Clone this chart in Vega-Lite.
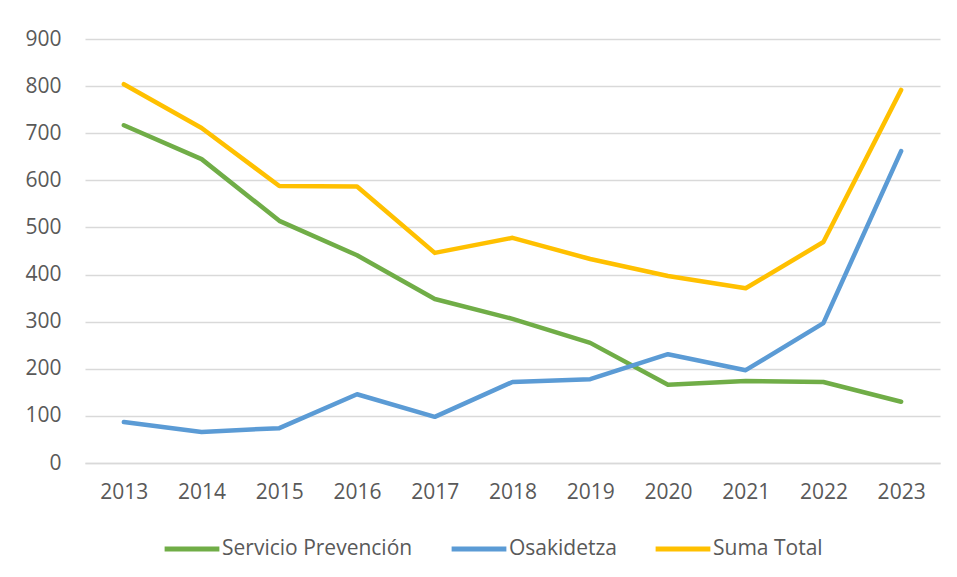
{
  "$schema": "https://vega.github.io/schema/vega-lite/v6.json",
  "width": 855,
  "height": 424,
  "autosize": {"type": "none"},
  "padding": {"left": 85, "top": 39, "right": 17, "bottom": 114},
  "background": "white",
  "config": {
    "view": {"stroke": null},
    "font": "Open Sans"
  },
  "data": {
    "values": [
      {"year": "2013", "serie": "Servicio Prevención", "value": 717},
      {"year": "2014", "serie": "Servicio Prevención", "value": 645},
      {"year": "2015", "serie": "Servicio Prevención", "value": 514},
      {"year": "2016", "serie": "Servicio Prevención", "value": 441},
      {"year": "2017", "serie": "Servicio Prevención", "value": 348},
      {"year": "2018", "serie": "Servicio Prevención", "value": 306},
      {"year": "2019", "serie": "Servicio Prevención", "value": 255},
      {"year": "2020", "serie": "Servicio Prevención", "value": 166},
      {"year": "2021", "serie": "Servicio Prevención", "value": 174},
      {"year": "2022", "serie": "Servicio Prevención", "value": 172},
      {"year": "2023", "serie": "Servicio Prevención", "value": 130},
      {"year": "2013", "serie": "Osakidetza", "value": 87},
      {"year": "2014", "serie": "Osakidetza", "value": 66},
      {"year": "2015", "serie": "Osakidetza", "value": 74},
      {"year": "2016", "serie": "Osakidetza", "value": 146},
      {"year": "2017", "serie": "Osakidetza", "value": 98},
      {"year": "2018", "serie": "Osakidetza", "value": 172},
      {"year": "2019", "serie": "Osakidetza", "value": 178},
      {"year": "2020", "serie": "Osakidetza", "value": 231},
      {"year": "2021", "serie": "Osakidetza", "value": 197},
      {"year": "2022", "serie": "Osakidetza", "value": 297},
      {"year": "2023", "serie": "Osakidetza", "value": 662},
      {"year": "2013", "serie": "Suma Total", "value": 804},
      {"year": "2014", "serie": "Suma Total", "value": 711},
      {"year": "2015", "serie": "Suma Total", "value": 588},
      {"year": "2016", "serie": "Suma Total", "value": 587},
      {"year": "2017", "serie": "Suma Total", "value": 446},
      {"year": "2018", "serie": "Suma Total", "value": 478},
      {"year": "2019", "serie": "Suma Total", "value": 433},
      {"year": "2020", "serie": "Suma Total", "value": 397},
      {"year": "2021", "serie": "Suma Total", "value": 371},
      {"year": "2022", "serie": "Suma Total", "value": 469},
      {"year": "2023", "serie": "Suma Total", "value": 792}
    ]
  },
  "mark": {"type": "line", "strokeWidth": 4.5, "strokeCap": "round", "strokeJoin": "round"},
  "encoding": {
    "x": {
      "field": "year", "type": "ordinal",
      "scale": {"type": "point", "padding": 0.5},
      "axis": {
        "title": null, "labelAngle": 0, "labelFontSize": 21, "labelColor": "#595959",
        "domainColor": "#D9D9D9", "domainWidth": 1.3, "ticks": false, "labelPadding": 18, "grid": false
      }
    },
    "y": {
      "field": "value", "type": "quantitative",
      "scale": {"domain": [0, 900]},
      "axis": {
        "title": null, "values": [0,100,200,300,400,500,600,700,800,900],
        "labelFontSize": 21, "labelColor": "#595959", "domain": false, "ticks": false,
        "labelPadding": 24, "gridColor": "#D9D9D9", "gridWidth": 1.3
      }
    },
    "color": {
      "field": "serie", "type": "nominal",
      "scale": {
        "domain": ["Servicio Prevención", "Osakidetza", "Suma Total"],
        "range": ["#70AD47", "#5B9BD5", "#FFC000"]
      },
      "legend": {
        "title": null, "orient": "none", "direction": "horizontal",
        "legendX": 77, "legendY": 480,
        "symbolType": "stroke", "symbolSize": 3000, "symbolStrokeWidth": 5,
        "labelFontSize": 21, "labelColor": "#595959", "labelOffset": 0, "labelLimit": 400,
        "columnPadding": 28
      }
    }
  }
}
